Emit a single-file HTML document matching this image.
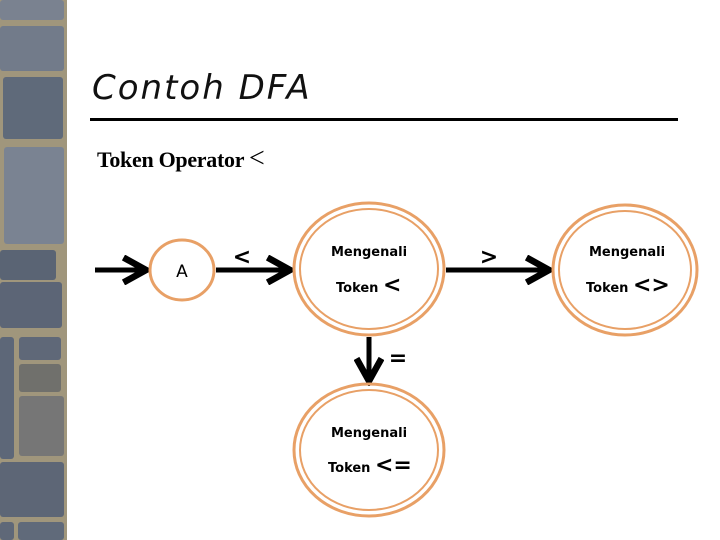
<!DOCTYPE html>
<html><head><style>
body{margin:0;width:720px;height:540px;background:#fff;overflow:hidden;position:relative;font-family:"Liberation Sans",sans-serif}
.wall{position:absolute;left:0;top:0;width:67px;height:540px;background:#a0967c}
.s{position:absolute;background:#6b7484;border-radius:3px}
</style></head><body>
<div class="wall">
<div class="s" style="left:0;top:0;width:64px;height:20px;background:#7a8290"></div>
<div class="s" style="left:0;top:26px;width:64px;height:45px;background:#727b8a"></div>
<div class="s" style="left:3px;top:77px;width:60px;height:62px;background:#5f6a7a"></div>
<div class="s" style="left:4px;top:147px;width:60px;height:97px;background:#7a8392"></div>
<div class="s" style="left:0;top:250px;width:56px;height:30px;background:#5a6474"></div>
<div class="s" style="left:0;top:282px;width:62px;height:46px;background:#5c6576"></div>
<div class="s" style="left:0;top:337px;width:14px;height:122px;background:#5d6778"></div>
<div class="s" style="left:19px;top:337px;width:42px;height:23px;background:#5f6878"></div>
<div class="s" style="left:19px;top:364px;width:42px;height:28px;background:#70706c"></div>
<div class="s" style="left:19px;top:396px;width:45px;height:60px;background:#767676"></div>
<div class="s" style="left:0;top:462px;width:64px;height:55px;background:#5d6676"></div>
<div class="s" style="left:0;top:522px;width:14px;height:18px;background:#5f6878"></div>
<div class="s" style="left:18px;top:522px;width:46px;height:18px;background:#606a7a"></div>
</div>
<div style="position:absolute;left:92px;top:68px;font-family:'DejaVu Sans',sans-serif;font-style:italic;font-size:34px;color:#111;letter-spacing:2px">Contoh DFA</div>
<div style="position:absolute;left:90px;top:118px;width:588px;height:3px;background:#000"></div>
<div style="position:absolute;left:97px;top:147px;font-family:'Liberation Serif',serif;font-weight:bold;font-size:22px;letter-spacing:-0.3px">Token Operator <span style="font-size:28px;font-weight:normal;line-height:20px">&lt;</span></div>
<svg width="720" height="540" style="position:absolute;left:0;top:0">
<defs><marker id="ah" markerWidth="6" markerHeight="6" refX="5" refY="3" orient="auto" markerUnits="strokeWidth"><path d="M0.5,0.5 L5,3 L0.5,5.5" fill="none" stroke="#000" stroke-width="1.3"/></marker></defs>
<g stroke="#000" stroke-width="5" fill="none">
<line x1="95" y1="270" x2="146" y2="270" marker-end="url(#ah)"/>
<line x1="216" y1="270" x2="290" y2="270" marker-end="url(#ah)"/>
<line x1="446" y1="270" x2="549" y2="270" marker-end="url(#ah)"/>
<line x1="369" y1="337" x2="369" y2="381" marker-end="url(#ah)"/>
</g>
<g fill="none" stroke="#e8a066" stroke-width="3">
<ellipse cx="182" cy="270" rx="32" ry="30"/>
<ellipse cx="369" cy="269" rx="75" ry="66"/>
<ellipse cx="369" cy="269" rx="69" ry="60" stroke-width="2"/>
<ellipse cx="625" cy="270" rx="72" ry="65"/>
<ellipse cx="625" cy="270" rx="66" ry="59" stroke-width="2"/>
<ellipse cx="369" cy="450" rx="75" ry="66"/>
<ellipse cx="369" cy="450" rx="69" ry="60" stroke-width="2"/>
</g>
<g font-family="DejaVu Sans, sans-serif" font-size="13" font-weight="bold" fill="#000">
<text x="182" y="277" text-anchor="middle" font-size="17" font-weight="normal">A</text>
<text x="242" y="264" text-anchor="middle" font-size="22">&lt;</text>
<text x="489" y="264" text-anchor="middle" font-size="22">&gt;</text>
<text x="398" y="365" text-anchor="middle" font-size="22">=</text>
<text x="369" y="256" text-anchor="middle">Mengenali</text>
<text x="336" y="292">Token <tspan font-size="22">&lt;</tspan></text>
<text x="627" y="256" text-anchor="middle">Mengenali</text>
<text x="586" y="292">Token <tspan font-size="22">&lt;&gt;</tspan></text>
<text x="369" y="437" text-anchor="middle">Mengenali</text>
<text x="328" y="472">Token <tspan font-size="22">&lt;=</tspan></text>
</g>
</svg>
</body></html>
